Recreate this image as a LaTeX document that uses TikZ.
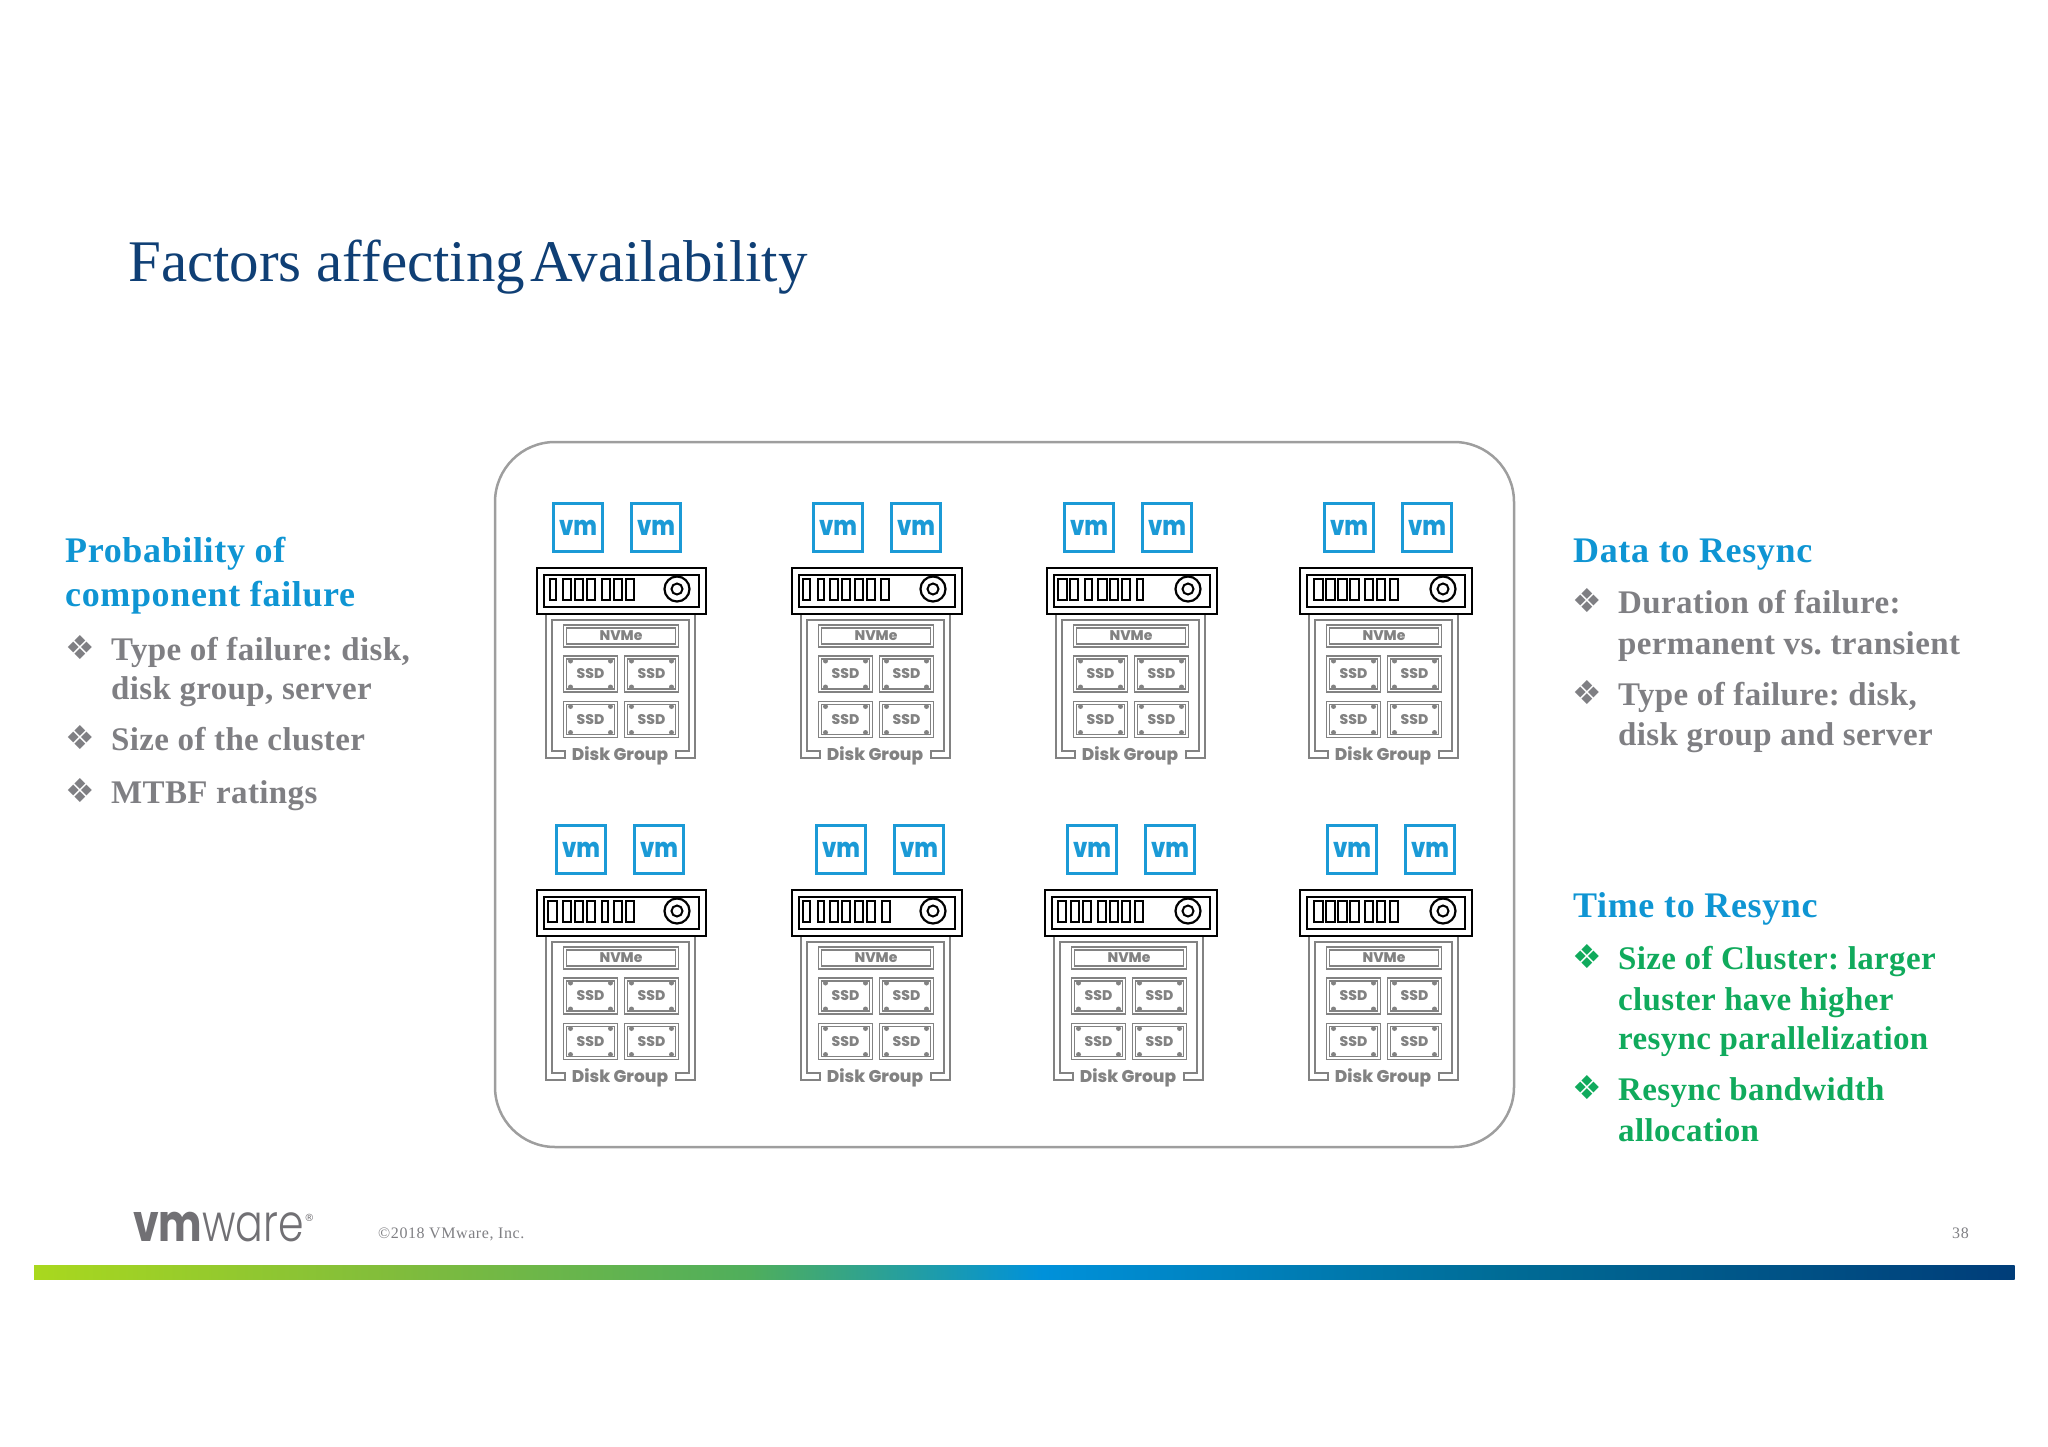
\documentclass[tikz,border=0pt]{standalone}
\usepackage{fontspec}
\setmainfont{Liberation Serif}
\newfontfamily\headfont[LetterSpace=1.8]{Liberation Serif}
\newfontfamily\bodyfont[LetterSpace=1.1]{Liberation Serif}
\newfontfamily\footfont[LetterSpace=3.6]{Liberation Serif}
\newfontfamily\iconfont[BoldFont=* ExtraBold]{Poppins}
\newfontfamily\logofont[UprightFont=* Light,BoldFont=* Bold]{Poppins}
\newfontfamily\symbfont{DejaVu Sans}
\frenchspacing
\definecolor{titleblue}{HTML}{0F3F75}
\definecolor{headblue}{HTML}{0F95D3}
\definecolor{vmblue}{HTML}{1B9AD6}
\definecolor{bodygray}{HTML}{7F7F83}
\definecolor{boxgray}{HTML}{828282}
\definecolor{bodygreen}{HTML}{10AA5C}
\definecolor{logogray}{HTML}{717074}
\tikzset{
	vmbox/.style={draw=vmblue,line width=3.5pt,minimum width=49pt,minimum height=48pt,inner sep=0pt,text=vmblue,font=\iconfont\fontsize{27}{27}\selectfont\bfseries},
	bartext/.style={draw=boxgray,line width=1.5pt,double=white,double distance=1.6pt,inner sep=0pt,text=boxgray,font=\iconfont\fontsize{14}{14}\selectfont\bfseries},
	grouptext/.style={text=boxgray,inner sep=0pt,font=\iconfont\fontsize{17}{17}\selectfont\bfseries},
	headtext/.style={anchor=base west,inner sep=0pt,text=headblue,font=\headfont\fontsize{36}{36}\selectfont\bfseries},
	itemtext/.style={anchor=base west,inner sep=0pt,font=\bodyfont\fontsize{33}{33}\selectfont\bfseries},
	bullet/.style={anchor=base,inner sep=0pt,font=\symbfont\fontsize{33}{33}\selectfont}
}
\begin{document}
\begin{tikzpicture}[x=1pt,y=-1pt]
	\useasboundingbox (0,0) rectangle (2048,1447);
	\node[anchor=base west,inner sep=0pt,text=titleblue,font=\fontsize{59}{59}\selectfont,name=title] at (128,282){Factors affecting\hspace{5pt}Availability};
	% frame round the servers
	\node[draw=black!38,line width=2.5pt,rounded corners=60pt,minimum width=1019pt,minimum height=705pt,name=frame] at (1004.5,794.5){};
	% bar x, bar top, bar width, first vm, slots
	\foreach \n/\bx/\ty/\bw/\vx/\slots in {
		1/536/567/171/16/{14/6,27/8,39/8,51/8,66/8,78/8,90/8},
		2/791/567/172/21/{12/7,27/6,39/8,51/8,64/8,76/8,90/8},
		3/1046/567/172/17/{12/9,24/8,39/7,52/9,64/8,76/8,91/6},
		4/1299/567/174/24/{15/9,27/9,39/9,51/9,66/8,78/8,91/8},
		5/536/889/171/19/{12/9,27/8,39/8,51/8,66/6,78/8,90/8},
		6/791/889/172/24/{12/7,27/6,39/8,51/8,64/8,76/8,91/8},
		7/1044/889/174/22/{14/8,27/8,39/8,54/8,66/8,78/8,91/8},
		8/1299/889/174/27/{15/9,27/9,39/9,51/9,66/8,78/8,91/8}}{
		\begin{scope}[shift={(\bx,\ty)}]
			\node[vmbox,name=V\n] at (\vx+26,-39.5){\scalebox{.82}[1]{vm}};
			\node[vmbox,name=W\n] at (\vx+104,-39.5){\scalebox{.82}[1]{vm}};
			\draw[boxgray,line width=1.8pt] (10,48)--(10,191)--(29,191)--(29,184)--(16,184)--(16,53)--(153,53)--(153,184)--(140,184)--(140,191)--(159,191)--(159,48);
			\draw[line width=2.4pt] (1,1) rectangle (\bw-1,47);
			\draw[line width=2.2pt] (8,8) rectangle (\bw-8,40);
			\foreach \s/\w in \slots{
				\draw[line width=1.8pt] (\s,12) rectangle (\s+\w,33);
			};
			\node[draw,shape=circle,line width=2.2pt,minimum size=25pt,inner sep=0pt,name=C\n] at (\bw-30,22){};
			\node[draw,shape=circle,line width=2pt,minimum size=11pt,inner sep=0pt] at (C\n){};
			\node[bartext,minimum width=112pt,minimum height=19pt,name=N\n] at (85,69){NVMe};
			\foreach \a/\xa/\ya in {a/54.5/107,b/115.5/107,c/54.5/152.5,d/115.5/152.5}{
				\node[bartext,minimum width=51pt,minimum height=33pt,name=S\n\a] at (\xa,\ya){SSD};
				\foreach \cx/\cy in {-20/-13,20/-13,-20/13,20/13}{
					\fill[boxgray] (\xa+\cx,\ya+\cy) circle (2.5pt);
				};
			};
			\node[grouptext,name=G\n] at (84,189){Disk Group};
		\end{scope}
	};
	% left column
	\node[headtext,name=L1] at (65,562){Probability of};
	\node[headtext,name=L2] at (65,606){component failure};
	\foreach \n/\y/\t/\b in {3/660/{Type of failure: disk,}/1,4/699/{disk group, server}/0,5/750/Size of the cluster/1,6/803/MTBF ratings/1}{
		\node[itemtext,text=bodygray,name=L\n] at (111,\y){\t};
		\ifnum\b=1 \node[bullet,text=bodygray,name=P\n] at (80,\y-0.5){❖}; \fi
	};
	% right column
	\node[headtext,name=R1] at (1573,562){Data to Resync};
	\foreach \n/\y/\t/\b in {2/613/Duration of failure:/1,3/654/permanent vs. transient/0,4/705/{Type of failure: disk,}/1,5/745/disk group and server/0}{
		\node[itemtext,text=bodygray,name=R\n] at (1618,\y){\t};
		\ifnum\b=1 \node[bullet,text=bodygray,name=Q\n] at (1587,\y-0.5){❖}; \fi
	};
	\node[headtext,name=R6] at (1573,917){Time to Resync};
	\foreach \n/\y/\t/\b in {7/969/Size of Cluster: larger/1,8/1010/cluster have higher/0,9/1049/resync parallelization/0,10/1100/Resync bandwidth/1,11/1141/allocation/0}{
		\node[itemtext,text=bodygreen,name=R\n] at (1618,\y){\t};
		\ifnum\b=1 \node[bullet,text=bodygreen,name=Q\n] at (1587,\y-0.5){❖}; \fi
	};
	% footer
	\node[anchor=base west,inner sep=0pt,text=logogray,font=\logofont\fontsize{52}{52}\selectfont,name=logo] at (133,1241){\scalebox{.79}[1]{\textbf{vm}ware}};
	\node[anchor=base west,inner sep=0pt,text=logogray,font=\symbfont\fontsize{10}{10}\selectfont,name=reg] at ([yshift=20pt]logo.base east){®};
	\node[anchor=base west,inner sep=0pt,text=bodygray,font=\footfont\fontsize{16}{16}\selectfont,name=copy] at (378,1238){©2018 VMware, Inc.};
	\node[anchor=base east,inner sep=0pt,text=bodygray,font=\footfont\fontsize{16}{16}\selectfont,name=page] at (1969,1238){38};
	% colour strip
	\foreach \xa/\xb/\ca/\cb in {34/400/A9D81E/80BC3C,400/750/80BC3C/4FAE5C,750/1042/4FAE5C/0091DA,1042/1500/0091DA/006C96,1500/2014/006C96/003D79}{
		\definecolor{ca}{HTML}{\ca}\definecolor{cb}{HTML}{\cb}
		\shade[left color=ca,right color=cb] (\xa,1265) rectangle (\xb+0.5,1279);
	};
\end{tikzpicture}
\end{document}
